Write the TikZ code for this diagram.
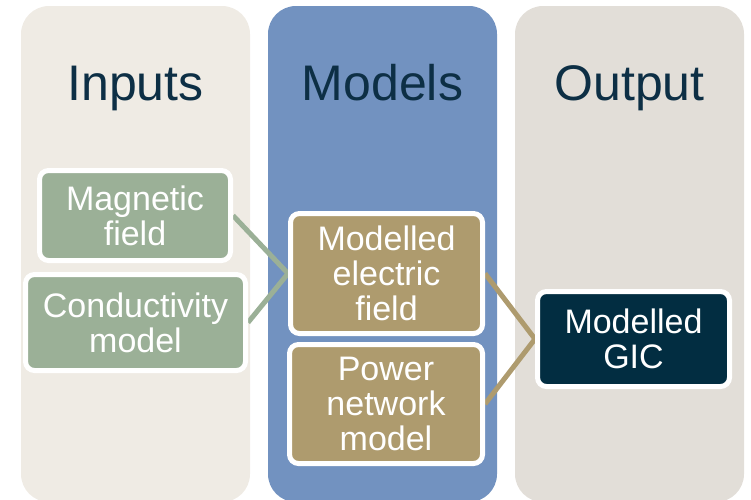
\documentclass[tikz,border=0pt]{standalone}
\usepackage{fontspec}
\setmainfont{Liberation Sans}
\pgfdeclarelayer{cols}
\pgfdeclarelayer{links}
\pgfsetlayers{cols,links,main}
\definecolor{colin}{HTML}{EFEBE4}
\definecolor{colmod}{HTML}{7292C0}
\definecolor{colout}{HTML}{E2DED8}
\definecolor{boxgreen}{HTML}{9BB097}
\definecolor{boxtan}{HTML}{AE9B6E}
\definecolor{boxdark}{HTML}{022D41}
\definecolor{titletext}{HTML}{0D2F45}
\tikzset{
  column/.style={rounded corners=28pt},
  coltitle/.style={anchor=base, text=titletext, font=\fontsize{50}{56}\selectfont, inner sep=0pt},
  itembox/.style={draw=white, line width=5pt, rounded corners=9pt, text=white,
    font=\fontsize{34}{35}\selectfont, align=center, inner sep=0pt},
  greenbox/.style={itembox, fill=boxgreen},
  tanbox/.style={itembox, fill=boxtan},
  darkbox/.style={itembox, fill=boxdark},
  greenlink/.style={draw=boxgreen, line width=5pt},
  tanlink/.style={draw=boxtan, line width=5pt}
}
\begin{document}
\begin{tikzpicture}[x=1pt,y=-1pt]
\useasboundingbox (0,0) rectangle (751,499);
\begin{pgfonlayer}{cols}
\fill[column, colin] (21,6) rectangle (250,502);
\fill[column, colmod] (268,6) rectangle (497,502);
\fill[column, colout] (515,6) rectangle (744,502);
\end{pgfonlayer}
\node[coltitle] (tin) at (135.5,100) {Inputs};
\node[coltitle] (tmod) at (382.5,100) {Models};
\node[coltitle] (tout) at (629.5,100) {Output};

\node[greenbox, minimum width=191pt, minimum height=90pt] (mag) at (135,215.5) {Magnetic\\field};
\node[greenbox, minimum width=220pt, minimum height=96pt] (cond) at (135.5,322.5) {Conductivity\\model};
\node[tanbox, minimum width=192pt, minimum height=120pt] (elec) at (386.5,273.5) {Modelled\\electric\\field};
\node[tanbox, minimum width=193pt, minimum height=119pt] (pow) at (386,404) {Power\\network\\model};
\node[darkbox, minimum width=192pt, minimum height=95pt] (gic) at (633.5,339) {Modelled\\GIC};

\begin{pgfonlayer}{links}
\draw[greenlink] (mag.east) -- (elec.west);
\draw[greenlink] (cond.east) -- (elec.west);
\draw[tanlink] (elec.east) -- (gic.west);
\draw[tanlink] (pow.east) -- (gic.west);
\end{pgfonlayer}
\end{tikzpicture}
\end{document}
